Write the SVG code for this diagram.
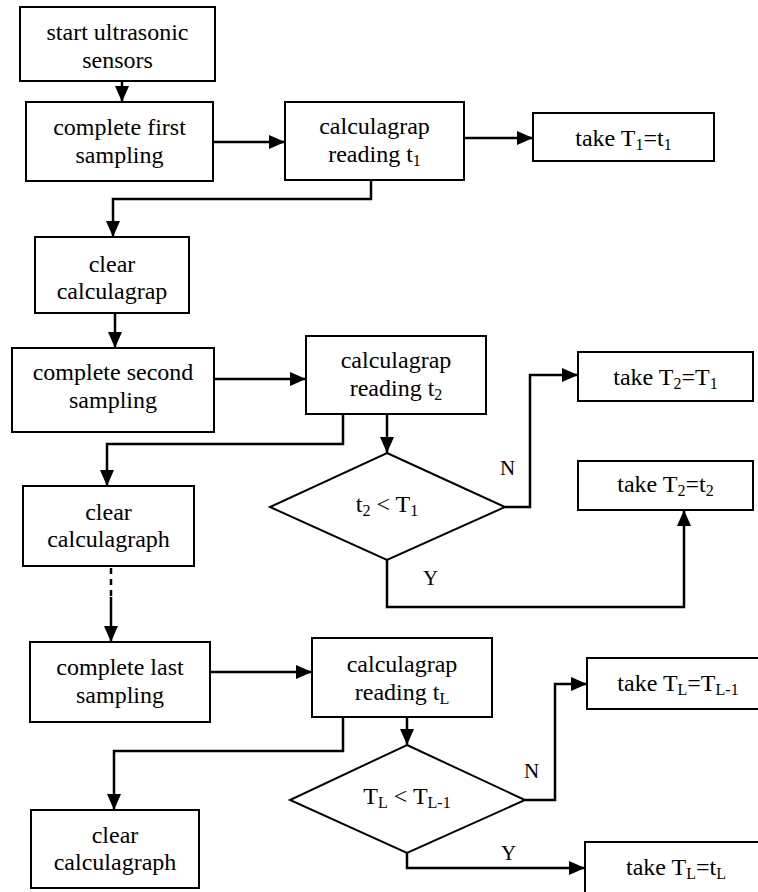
<svg xmlns="http://www.w3.org/2000/svg" width="758" height="892" viewBox="0 0 758 892">
<defs>
<marker id="ah" markerUnits="userSpaceOnUse" markerWidth="16" markerHeight="14" refX="16" refY="7" orient="auto">
<path d="M0,0 L16,7 L0,14 Z" fill="#000"/>
</marker>
<style>
.box{fill:#fff;stroke:#000;stroke-width:2}
.t{font-family:"Liberation Serif","Times New Roman",serif;font-size:24px;fill:#000;text-anchor:middle}
.lbl{font-family:"Liberation Serif","Times New Roman",serif;font-size:21px;fill:#000}
.sub{font-size:16px}
.c{fill:none;stroke:#000;stroke-width:2.5}
.ca{fill:none;stroke:#000;stroke-width:2.5;marker-end:url(#ah)}
</style>
</defs>
<rect width="758" height="892" fill="#fff"/>
<g id="connectors">
<path class="ca" d="M122,81 V102"/>
<path class="ca" d="M213,142 H285"/>
<path class="ca" d="M464,138 H533"/>
<path class="ca" d="M371,180 V199 H113 V237"/>
<path class="ca" d="M115,313 V348"/>
<path class="ca" d="M214,379 H306"/>
<path class="ca" d="M343,414 V444 H107 V486"/>
<path class="ca" d="M387,414 V453"/>
<path class="ca" d="M505,507 H530 V375 H578"/>
<path class="ca" d="M387,560 V607 H684 V510"/>
<path class="c" d="M111,568 V597" stroke-dasharray="6,5" stroke-width="2"/>
<path class="ca" d="M111,597 V642"/>
<path class="ca" d="M210,672 H312"/>
<path class="ca" d="M343,717 V751 H114 V810"/>
<path class="ca" d="M407,717 V745"/>
<path class="ca" d="M525,800 H555 V684 H587"/>
<path class="ca" d="M407,853 V868 H585"/>
</g>
<g id="start">
<rect class="box" x="20" y="7" width="195" height="74"/>
<text class="t" x="117.5" y="40">start ultrasonic</text>
<text class="t" x="117.5" y="68">sensors</text>
</g>
<g id="first-sampling">
<rect class="box" x="26" y="102" width="187" height="79"/>
<text class="t" x="119.5" y="135">complete first</text>
<text class="t" x="119.5" y="163">sampling</text>
</g>
<g id="reading-t1">
<rect class="box" x="285" y="102" width="179" height="78"/>
<text class="t" x="374.5" y="134">calculagrap</text>
<text class="t" x="374.5" y="162">reading t<tspan class="sub" dy="4">1</tspan></text>
</g>
<g id="take-T1">
<rect class="box" x="533" y="113" width="181" height="48"/>
<text class="t" x="623.5" y="146">take T<tspan class="sub" dy="4">1</tspan><tspan dy="-4">=t</tspan><tspan class="sub" dy="4">1</tspan></text>
</g>
<g id="clear-1">
<rect class="box" x="35" y="237" width="154" height="76"/>
<text class="t" x="112" y="272">clear</text>
<text class="t" x="112" y="299">calculagrap</text>
</g>
<g id="second-sampling">
<rect class="box" x="12" y="348" width="202" height="84"/>
<text class="t" x="113" y="380">complete second</text>
<text class="t" x="113" y="408">sampling</text>
</g>
<g id="reading-t2">
<rect class="box" x="306" y="336" width="180" height="78"/>
<text class="t" x="396" y="368">calculagrap</text>
<text class="t" x="396" y="396">reading t<tspan class="sub" dy="4">2</tspan></text>
</g>
<g id="decision-2">
<polygon class="box" points="387,453 505,507 387,560 270,507"/>
<text class="t" x="387" y="512">t<tspan class="sub" dy="4">2</tspan><tspan dy="-4"> &lt; T</tspan><tspan class="sub" dy="4">1</tspan></text>
</g>
<g id="take-T2-T1">
<rect class="box" x="578" y="352" width="175" height="49"/>
<text class="t" x="665.5" y="385">take T<tspan class="sub" dy="4">2</tspan><tspan dy="-4">=T</tspan><tspan class="sub" dy="4">1</tspan></text>
</g>
<g id="take-T2-t2">
<rect class="box" x="578" y="461" width="175" height="49"/>
<text class="t" x="665.5" y="492">take T<tspan class="sub" dy="4">2</tspan><tspan dy="-4">=t</tspan><tspan class="sub" dy="4">2</tspan></text>
</g>
<g id="clear-2">
<rect class="box" x="23" y="486" width="171" height="80"/>
<text class="t" x="108.5" y="520">clear</text>
<text class="t" x="108.5" y="547">calculagraph</text>
</g>
<g id="last-sampling">
<rect class="box" x="30" y="642" width="180" height="80"/>
<text class="t" x="120" y="675">complete last</text>
<text class="t" x="120" y="703">sampling</text>
</g>
<g id="reading-tL">
<rect class="box" x="312" y="638" width="180" height="79"/>
<text class="t" x="402" y="672">calculagrap</text>
<text class="t" x="402" y="700">reading t<tspan class="sub" dy="4">L</tspan></text>
</g>
<g id="decision-L">
<polygon class="box" points="407,745 525,800 407,853 290,800"/>
<text class="t" x="407" y="804">T<tspan class="sub" dy="4">L</tspan><tspan dy="-4"> &lt; T</tspan><tspan class="sub" dy="4">L-1</tspan></text>
</g>
<g id="take-TL-TL1">
<rect class="box" x="587" y="658" width="180" height="51"/>
<text class="t" x="678" y="691">take T<tspan class="sub" dy="4">L</tspan><tspan dy="-4">=T</tspan><tspan class="sub" dy="4">L-1</tspan></text>
</g>
<g id="take-TL-tL">
<rect class="box" x="585" y="842" width="180" height="60"/>
<text class="t" x="676" y="875">take T<tspan class="sub" dy="4">L</tspan><tspan dy="-4">=t</tspan><tspan class="sub" dy="4">L</tspan></text>
</g>
<g id="clear-L">
<rect class="box" x="31" y="810" width="168" height="78"/>
<text class="t" x="115" y="843">clear</text>
<text class="t" x="115" y="870">calculagraph</text>
</g>
<g id="labels">
<text class="lbl" x="500" y="475">N</text>
<text class="lbl" x="423" y="585">Y</text>
<text class="lbl" x="524" y="778">N</text>
<text class="lbl" x="501" y="860">Y</text>
</g>
</svg>
